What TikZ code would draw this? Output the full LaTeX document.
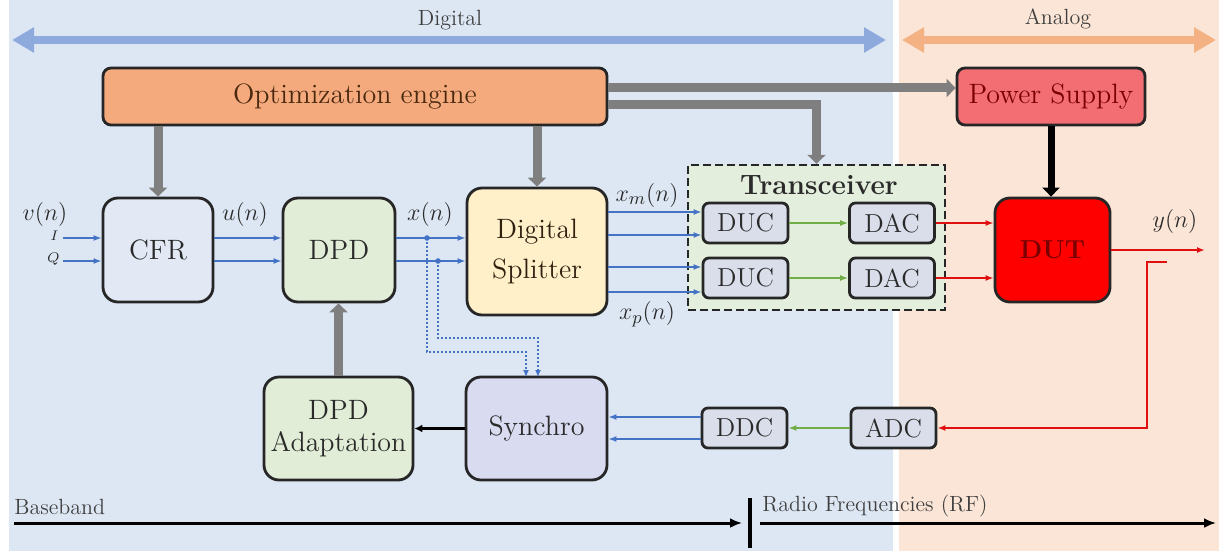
\documentclass[tikz,border=0pt]{standalone}
\usetikzlibrary{arrows.meta}
\definecolor{bgblue}{HTML}{DDE7F4}
\definecolor{bgpeach}{HTML}{FBE5D6}
\definecolor{topblue}{HTML}{8EA9DB}
\definecolor{toporange}{HTML}{F4B183}
\definecolor{optc}{HTML}{F4AA7C}
\definecolor{optt}{HTML}{4A2810}
\definecolor{psc}{HTML}{F26E72}
\definecolor{pst}{HTML}{7A0000}
\definecolor{dutc}{HTML}{FF0000}
\definecolor{cfrc}{HTML}{E2E9F4}
\definecolor{dpdc}{HTML}{E1EDD6}
\definecolor{splc}{HTML}{FFF0C9}
\definecolor{syncc}{HTML}{D9DCF1}
\definecolor{trxc}{HTML}{E3EEDC}
\definecolor{smallc}{HTML}{D9DEEA}
\definecolor{sigblue}{HTML}{4472C4}
\definecolor{siggreen}{HTML}{70AD47}
\definecolor{sigred}{HTML}{E01010}
\definecolor{grayarr}{HTML}{7F7F7F}
\definecolor{txt}{HTML}{2A2A2A}
\newcommand\nodefont{\fontsize{14}{16}\selectfont}
\newcommand\labfont{\fontsize{13}{15}\selectfont}
\newcommand\axfont{\fontsize{11}{13}\selectfont}
\begin{document}
\begin{tikzpicture}[x=0.5pt,y=-0.5pt,
  blk/.style={draw=black!85, line width=1.4pt, rounded corners=7.5pt, inner sep=2pt,
    font=\nodefont, text=txt, align=center},
  smallblk/.style={draw=black!85, line width=1.4pt, rounded corners=3pt, inner sep=1pt,
    fill=smallc, font=\labfont, text=txt, minimum width=42.5pt, minimum height=20pt},
  gray arrow/.style={draw=grayarr, line width=4.5pt, -{Triangle[length=4.5pt,width=9pt]}},
  sig/.style={draw=sigblue, line width=1pt, -{Latex[length=4pt,width=3pt]}},
  gsig/.style={draw=siggreen, line width=1pt, -{Latex[length=4pt,width=3pt]}},
  rsig/.style={draw=sigred, line width=1pt, -{Latex[length=4pt,width=3pt]}},
  dotsig/.style={draw=sigblue, line width=1pt, densely dotted, -{Latex[length=3.5pt,width=3pt]}},
  lab/.style={font=\labfont, text=txt, inner sep=0pt},
  axlab/.style={font=\axfont, text=txt!90, inner sep=0pt},
  axis/.style={draw=black, line width=1.5pt, -{Latex[length=6pt,width=5pt]}}
]
\useasboundingbox (0,0) rectangle (1219,551);
% backgrounds
\fill[bgblue] (9,0) rectangle (893,551);
\fill[bgpeach] (899,0) rectangle (1219,551);

% top domain arrows
\coordinate (dl) at (12,40); \coordinate (dr) at (886,40);
\coordinate (al) at (902,40); \coordinate (ar) at (1216,40);
\draw[topblue, line width=4pt, {Triangle[length=11pt,width=12pt]}-{Triangle[length=11pt,width=12pt]}] (dl) -- (dr);
\draw[toporange, line width=4pt, {Triangle[length=11pt,width=12pt]}-{Triangle[length=11pt,width=12pt]}] (al) -- (ar);
\node[axlab] (digl) at (450,20) {Digital};
\node[axlab] (anal) at (1058,19) {Analog};

% nodes
\node[blk, fill=optc, text=optt, rounded corners=4pt, minimum width=252pt, minimum height=28.5pt] (opt) at (355,96.5) {Optimization engine};
\node[blk, fill=psc, text=pst, rounded corners=4pt, minimum width=94pt, minimum height=28.5pt] (ps) at (1051,96.5) {Power Supply};
\node[blk, fill=cfrc, minimum width=55pt, minimum height=52pt] (cfr) at (158,250) {CFR};
\node[blk, fill=dpdc, minimum width=56pt, minimum height=52pt] (dpd) at (339,250) {DPD};
\node[blk, fill=splc, text=black!75!brown, minimum width=70pt, minimum height=63.5pt, font=\fontsize{14}{20}\selectfont] (split) at (537,251.5) {Digital\\Splitter};
\node[draw=black!85, line width=1.2pt, dash pattern=on 4pt off 2pt, fill=trxc, minimum width=128.5pt, minimum height=72.5pt, inner sep=0pt] (trx) at (816.5,237.5) {};
\node[font=\fontsize{14}{15}\selectfont\bfseries, text=txt, inner sep=0pt] (trxl) at (819,185) {Transceiver};
\node[smallblk] (duc1) at (745.5,223) {DUC};
\node[smallblk] (duc2) at (745.5,278) {DUC};
\node[smallblk] (dac1) at (892,223) {DAC};
\node[smallblk] (dac2) at (892,278) {DAC};
\node[blk, fill=dutc, text=pst, minimum width=57.5pt, minimum height=52pt, font=\fontsize{13}{15}\selectfont\bfseries] (dut) at (1052.5,250) {DUT};
\node[blk, fill=syncc, minimum width=70.5pt, minimum height=51.5pt] (sync) at (536.5,428.5) {Synchro};
\node[blk, fill=dpdc, minimum width=74.5pt, minimum height=51.5pt] (adapt) at (338.5,428.5) {DPD\\Adaptation};
\node[smallblk] (ddc) at (744.5,428) {DDC};
\node[smallblk] (adc) at (893.5,428) {ADC};

% gray control arrows
\draw[gray arrow] (opt.south -| cfr.north) -- (cfr.north);
\draw[gray arrow] (opt.south -| split.north) -- (split.north);
\draw[gray arrow] (opt.east |- 0,88) -- (ps.west |- 0,88);
\draw[gray arrow] (opt.east |- 0,105) -| (trx.north);
\draw[gray arrow] (adapt.north) -- (adapt.north |- dpd.south);
\draw[black, line width=3.5pt, -{Triangle[length=4.5pt,width=8.5pt]}] (ps.south) -- (ps.south |- dut.north);

% input I/Q
\coordinate (vi) at (63,238); \coordinate (vq) at (63,261);
\draw[sig] (vi) -- (cfr.west |- vi);
\draw[sig] (vq) -- (cfr.west |- vq);
\node[lab] (vlab) at (45,214) {$v(n)$};
\node[font=\fontsize{7}{8}\selectfont, text=txt, anchor=east, inner sep=0pt] (ilab) at (59,236) {$I$};
\node[font=\fontsize{7}{8}\selectfont, text=txt, anchor=east, inner sep=0pt] (qlab) at (60,259) {$Q$};

% CFR -> DPD -> Splitter
\draw[sig] (cfr.east |- vi) -- (dpd.west |- vi);
\draw[sig] (cfr.east |- vq) -- (dpd.west |- vq);
\node[lab] (ulab) at (245,214) {$u(n)$};
\draw[sig] (dpd.east |- vi) -- (split.west |- vi);
\draw[sig] (dpd.east |- vq) -- (split.west |- vq);
\node[lab] (xlab) at (430,214) {$x(n)$};

% Splitter -> DUC
\draw[sig] (split.east |- 0,212) -- (duc1.west |- 0,212);
\draw[sig] (split.east |- 0,235) -- (duc1.west |- 0,235);
\draw[sig] (split.east |- 0,267) -- (duc2.west |- 0,267);
\draw[sig] (split.east |- 0,292) -- (duc2.west |- 0,292);
\node[lab] (xmlab) at (647,195) {$x_m(n)$};
\node[lab] (xplab) at (647,314) {$x_p(n)$};

% DUC -> DAC -> DUT
\draw[gsig] (duc1) -- (dac1);
\draw[gsig] (duc2) -- (dac2);
\draw[rsig] (dac1.east) -- (dut.west |- dac1.east);
\draw[rsig] (dac2.east) -- (dut.west |- dac2.east);

% output
\coordinate (yout) at (1205,250);
\draw[rsig] (dut.east) -- (yout);
\node[lab] (ylab) at (1175,221) {$y(n)$};

% feedback
\coordinate (cp) at (1167,262); \coordinate (cq) at (1147,262);
\draw[rsig] (cp) -- (cq) |- (adc.east);
\draw[gsig] (adc.west) -- (ddc.east);
\draw[sig] (ddc.west |- 0,417) -- (sync.east |- 0,417);
\draw[sig] (ddc.west |- 0,439) -- (sync.east |- 0,439);
\draw[black, line width=1.5pt, -{Latex[length=4pt,width=4pt]}] (sync.west) -- (adapt.east);

% taps to synchro
\coordinate (t1) at (427,238); \coordinate (t2) at (438,261);
\coordinate (s1) at (526,377); \coordinate (s2) at (538,377);
\fill[sigblue] (t1) circle (1.4pt);
\fill[sigblue] (t2) circle (1.4pt);
\draw[dotsig] (t1) |- (526,352) -- (s1);
\draw[dotsig] (t2) |- (538,338) -- (s2);

% bottom axis
\coordinate (b0) at (14,523); \coordinate (b1) at (742,523);
\coordinate (r0) at (760,523); \coordinate (r1) at (1216,523);
\coordinate (bt) at (750,498); \coordinate (bb) at (750,548);
\draw[axis] (b0) -- (b1);
\draw[axis] (r0) -- (r1);
\draw[black, line width=1.6pt] (bt) -- (bb);
\node[axlab, anchor=west] (bbl) at (14,507) {Baseband};
\node[axlab, anchor=west] (rfl) at (762,506) {Radio Frequencies (RF)};
\end{tikzpicture}
\end{document}
